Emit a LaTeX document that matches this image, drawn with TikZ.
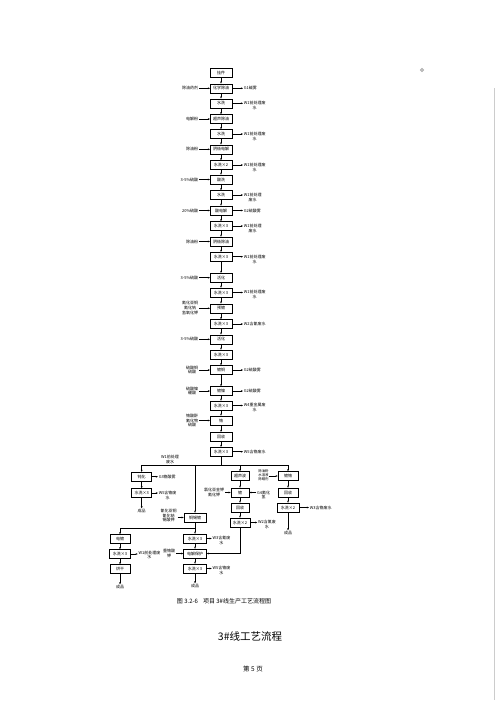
\documentclass[tikz,border=0pt]{standalone}
\usepackage{fontspec}
\newfontfamily\cjk{Noto Sans CJK SC}
\usetikzlibrary{arrows.meta,calc}
\tikzset{
  box/.style={draw, line width=0.5pt, minimum width=21.5pt, minimum height=9pt, inner sep=0pt, font=\cjk\fontsize{4}{4.8}\selectfont},
  sbox/.style={box, minimum width=18pt},
  lbl/.style={font=\cjk\fontsize{4}{4.9}\selectfont, align=center, inner sep=0.6pt},
  tlbl/.style={font=\cjk\fontsize{3.4}{4}\selectfont, align=center, inner sep=0.4pt},
  arr/.style={-{Stealth[length=2.2pt,width=1.8pt]}, line width=0.45pt},
  ln/.style={line width=0.45pt}
}
\begin{document}
\begin{tikzpicture}[x=1pt,y=-1pt]
\fill[white] (0,0) rectangle (500,707);
\useasboundingbox (0,0) rectangle (500,707);
% main column
\node[box] (m1) at (221,72.7) {挂件};
\node[box] (m2) at (221,88.3) {化学除油};
\node[box] (m3) at (221,103.3) {水洗};
\node[box] (m4) at (221,119) {超声除油};
\node[box] (m5) at (221,134) {水洗};
\node[box] (m6) at (221,149.3) {阴极电解};
\node[box] (m7) at (221,165) {水洗×2};
\node[box] (m8) at (221,179.5) {酸洗};
\node[box] (m9) at (221,195) {水洗};
\node[box] (m10) at (221,210.5) {酸电解};
\node[box] (m11) at (221,226) {水洗×3};
\node[box] (m12) at (221,241.5) {阴极除油};
\node[box] (m13) at (221,256.7) {水洗×3};
\node[box] (m14) at (221,277.7) {活化};
\node[box] (m15) at (221,292.5) {水洗×3};
\node[box] (m16) at (221,308.3) {预镀};
\node[box] (m17) at (221,324) {水洗×3};
\node[box] (m18) at (221,339.3) {活化};
\node[box] (m19) at (221,354.5) {水洗×3};
\node[box] (m20) at (221,370) {镀铜};
\node[box] (m21) at (221,391) {镀镍};
\node[box] (m22) at (221,405.5) {水洗×3};
\node[box] (m23) at (221,420.5) {铬};
\node[box] (m24) at (221,436.7) {回收};
\node[box] (m25) at (221,451.7) {水洗×3};
\foreach \a/\b in {m1/m2,m2/m3,m3/m4,m4/m5,m5/m6,m6/m7,m7/m8,m8/m9,m9/m10,m10/m11,m11/m12,m12/m13,m13/m14,m14/m15,m15/m16,m16/m17,m17/m18,m18/m19,m19/m20,m20/m21,m21/m22,m22/m23,m23/m24,m24/m25}
  \draw[arr] (\a) -- (\b);
% left inputs
\foreach \m/\t in {m2/除油药剂, m4/电解粉, m6/除油粉, m8/3-5\%硫酸, m10/20\%硫酸, m12/除油粉, m14/3-5\%硫酸, m16/{氰化亚铜\\氰化钠\\氢氧化钾}, m18/3-5\%硫酸, m20/{硫酸铜\\硫酸}, m21/{硫酸镍\\硼酸}, m23/{铬酸酐\\氟化物\\硫酸}}{
  \node[lbl, anchor=east] (i\m) at ($(\m.west)+(-11,0)$) {\t};
  \draw[arr] (i\m.east |- \m.west) -- (\m.west);
}
% right outputs, one line
\foreach \m/\t in {m2/G1碱雾, m10/G2硫酸雾, m17/W2含氰废水, m20/G2硫酸雾, m21/G2硫酸雾, m25/W5含铬废水}{
  \node[lbl, anchor=west] (o\m) at ($(\m.east)+(11,0)$) {\t};
  \draw[arr] (\m.east) -- (\m.east -| o\m.west);
}
% right outputs, two lines
\foreach \m/\t in {m3/{W1前处理废\\水}, m5/{W1前处理废\\水}, m7/{W1前处理废\\水}, m9/{W1前处理\\废水}, m11/{W1前处理\\废水}, m13/{W1前处理废\\水}, m15/{W1前处理废\\水}, m22/{W4重金属废\\水}}{
  \node[lbl, anchor=west] (o\m) at ($(\m.east)+(11,2.4)$) {\t};
  \draw[arr] (\m.east) -- (\m.east -| o\m.west);
}
% branching line
\coordinate (jC) at (221,465);
\coordinate (jL) at (141.7,465);
\coordinate (jM) at (195,465);
\coordinate (jR) at (240,465);
\coordinate (jRR) at (288,465);
\draw[ln] (m25) -- (jC);
\draw[ln] (jL) -- (jRR);
\node[lbl] (wlab) at (170,459.5) {W1前处理\\废水};
% left branch
\node[box, minimum width=20pt] (b1) at (141.7,476.7) {钝化};
\node[box, minimum width=20pt] (b2) at (141.7,493) {水洗×3};
\node[lbl] (b3) at (141.7,511) {成品};
\draw[arr] (jL) -- (b1);
\draw[arr] (b1) -- (b2);
\draw[arr] (b2) -- (b3);
\node[lbl, anchor=west] (ob1) at ($(b1.east)+(6,0)$) {G3铬酸雾};
\draw[arr] (b1.east) -- (ob1.west);
\node[lbl, anchor=west] (ob2) at ($(b2.east)+(6,2.4)$) {W5含铬废\\水};
\draw[arr] (b2.east) -- (b2.east -| ob2.west);
% middle branch
\node[box, minimum width=22pt] (c1) at (195,517.5) {铜锡镀};
\draw[arr] (jM) -- (c1);
\node[lbl, anchor=east] (ic1) at (177.5,515.5) {氰化亚铜\\氰化钠\\锡酸钾};
\draw[arr] (ic1.east |- c1.west) -- (c1.west);
% right sub column
\node[sbox] (r1) at (240,476) {超声波};
\node[sbox] (r2) at (240,492.5) {镀};
\node[sbox] (r3) at (240,507.5) {回收};
\node[sbox, minimum width=20pt] (r4) at (240,522.5) {水洗×2};
\draw[arr] (jR) -- (r1);
\draw[arr] (r1) -- (r2);
\draw[arr] (r2) -- (r3);
\draw[arr] (r3) -- (r4);
\node[lbl, anchor=east] (ir2) at (225,492.5) {氯化亚金钾\\氰化钾};
\draw[arr] (ir2.east |- r2.west) -- (r2.west);
\node[lbl, anchor=west] (or2) at ($(r2.east)+(7,2.4)$) {G4氰化\\氢};
\draw[arr] (r2.east -| or2.west) -- (r2.east);
\node[lbl, anchor=west] (or4) at ($(r4.east)+(7,2.4)$) {W2含氰废\\水};
\draw[arr] (r4.east) -- (r4.east -| or4.west);
% far right column
\node[box, minimum width=20pt] (s1) at (288,476) {镀铬};
\node[box, minimum width=20pt] (s2) at (288,492.5) {回收};
\node[box] (s3) at (288,507.5) {水洗×2};
\node[lbl] (s4) at (288,533) {成品};
\draw[arr] (jRR) -- (s1);
\draw[arr] (s1) -- (s2);
\draw[arr] (s2) -- (s3);
\draw[arr] (s3) -- (s4);
\node[tlbl] (tr1) at (263.5,475.5) {除油粉\\水溶液\\除蜡剂};
\draw[arr] (tr1.east |- s1.west) -- (s1.west);
\node[lbl, anchor=west] (os3) at ($(s3.east)+(10,0)$) {W3含铬废水};
\draw[arr] (s3.east) -- (os3.west);
% lower part
\coordinate (kC) at (195,528);
\coordinate (kL) at (120,528);
\draw[ln] (c1) -- (kC);
\draw[ln] (kC) -- (kL);
\node[box, minimum width=20pt] (d1) at (120,539) {电镀};
\node[box, minimum width=21pt] (d2) at (120,554) {水洗×3};
\node[box, minimum width=20pt] (d3) at (120,569) {烘干};
\node[lbl] (d4) at (120,587) {成品};
\draw[arr] (kL) -- (d1);
\draw[arr] (d1) -- (d2);
\draw[arr] (d2) -- (d3);
\draw[arr] (d3) -- (d4);
\node[lbl, anchor=west] (od2) at ($(d2.east)+(7,1)$) {W1前处理废\\水};
\draw[arr] (d2.east) -- (d2.east -| od2.west);
\node[box, minimum width=23pt] (p1) at (195,538.5) {水洗×3};
\node[box, minimum width=23pt] (p2) at (195,553.5) {电解保护};
\node[box, minimum width=23pt] (p3) at (195,568.5) {水洗×3};
\node[lbl] (p4) at (195,586) {成品};
\draw[arr] (kC) -- (p1);
\draw[arr] (p1) -- (p2);
\draw[arr] (p2) -- (p3);
\draw[arr] (p3) -- (p4);
\node[lbl, anchor=west] (op1) at ($(p1.east)+(5,2)$) {W3含氰废\\水};
\draw[arr] (p1.east) -- (p1.east -| op1.west);
\node[lbl, anchor=west] (op3) at ($(p3.east)+(5,2)$) {W5含铬废\\水};
\draw[arr] (p3.east) -- (p3.east -| op3.west);
\node[lbl, anchor=east] (ip2) at (176,553) {重铬酸\\钾};
\draw[arr] (ip2.east |- p2.west) -- (p2.west);
\coordinate (q1) at (240,553.5);
\draw[ln] (r4) -- (q1);
\draw[arr] (q1) -- (p2.east);
% captions
\node[font=\cjk\fontsize{6}{7}\selectfont, inner sep=0pt] (cap) at (224,601) {图 3.2-6\hspace{5pt}项目 3\#线生产工艺流程图};
\node[font=\cjk\fontsize{10.5}{12}\selectfont, inner sep=0pt] (title) at (250,636) {3\#线工艺流程};
\node[font=\cjk\fontsize{6.5}{7.5}\selectfont, inner sep=0pt] (page) at (253,669) {第 5 页};
% scan marks
\draw[gray!70, line width=0.9pt] (422,70) circle (1.6);
\draw[gray!40, line width=0.4pt] (494,88) -- (494,700);
\end{tikzpicture}
\end{document}
